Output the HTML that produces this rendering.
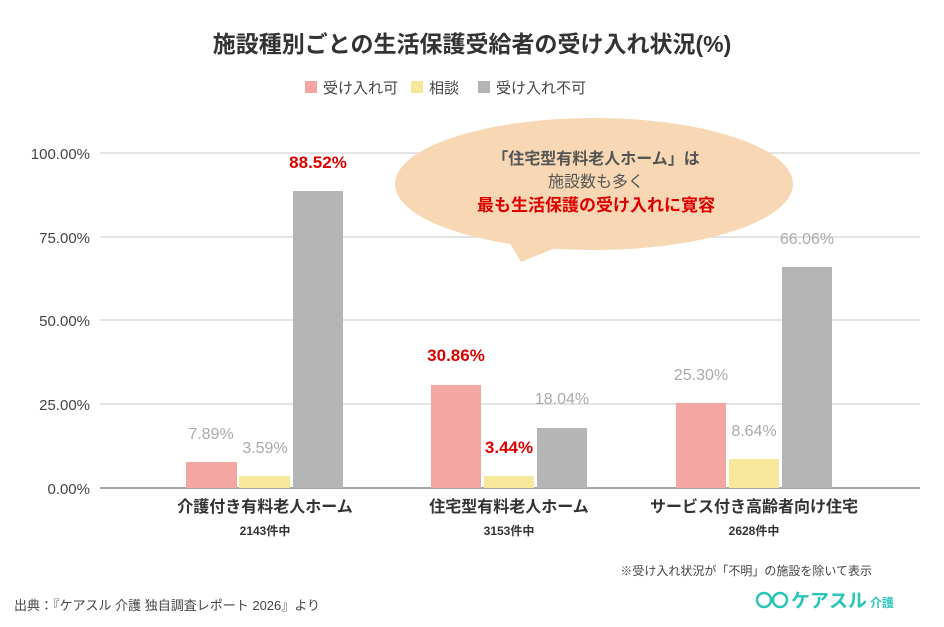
<!DOCTYPE html>
<html><head><meta charset="utf-8"><style>
body{margin:0;background:#fff;}
svg{display:block;font-family:"Liberation Sans","Noto Sans CJK JP",sans-serif;}
</style></head><body>
<svg width="944" height="627" viewBox="0 0 944 627" xmlns="http://www.w3.org/2000/svg">
<rect width="944" height="627" fill="#fff"/>
<text x="472" y="52" text-anchor="middle" font-size="23" font-weight="bold" fill="#333">施設種別ごとの生活保護受給者の受け入れ状況(%)</text>
<rect x="305" y="81" width="12" height="12" fill="#f4a6a3"/>
<text x="323" y="93" font-size="15" fill="#444">受け入れ可</text>
<rect x="411" y="81" width="12" height="12" fill="#f7e79a"/>
<text x="429" y="93" font-size="15" fill="#444">相談</text>
<rect x="478" y="81" width="12" height="12" fill="#b5b5b5"/>
<text x="496" y="93" font-size="15" fill="#444">受け入れ不可</text>
<g stroke="#dcdcdc" stroke-width="1.5">
<line x1="100" y1="153" x2="920" y2="153"/>
<line x1="100" y1="237" x2="920" y2="237"/>
<line x1="100" y1="320" x2="920" y2="320"/>
<line x1="100" y1="404" x2="920" y2="404"/>
</g>
<line x1="100" y1="488" x2="920" y2="488" stroke="#888" stroke-width="1.5"/>
<g font-size="15" fill="#444" text-anchor="end">
<text x="90" y="159">100.00%</text>
<text x="90" y="243">75.00%</text>
<text x="90" y="326">50.00%</text>
<text x="90" y="410">25.00%</text>
<text x="90" y="494">0.00%</text>
</g>
<ellipse cx="594" cy="184" rx="199" ry="66" fill="#f8d8b4"/>
<path d="M505 235 L521 262 L575 240 Z" fill="#f8d8b4"/>
<text x="596" y="164" text-anchor="middle" font-size="16" font-weight="bold" fill="#555">「住宅型有料老人ホーム」は</text>
<text x="596" y="187" text-anchor="middle" font-size="16" fill="#555">施設数も多く</text>
<text x="596" y="211" text-anchor="middle" font-size="17" font-weight="bold" fill="#d00">最も生活保護の受け入れに寛容</text>
<g>
<rect x="186" y="462" width="51" height="26" fill="#f4a6a3"/>
<rect x="239" y="476" width="51" height="12" fill="#f7e79a"/>
<rect x="293" y="191" width="50" height="297" fill="#b5b5b5"/>
<rect x="431" y="385" width="50" height="103" fill="#f4a6a3"/>
<rect x="484" y="476" width="50" height="12" fill="#f7e79a"/>
<rect x="537" y="428" width="50" height="60" fill="#b5b5b5"/>
<rect x="676" y="403" width="50" height="85" fill="#f4a6a3"/>
<rect x="729" y="459" width="50" height="29" fill="#f7e79a"/>
<rect x="782" y="267" width="50" height="221" fill="#b5b5b5"/>
</g>
<g font-size="16" fill="#aaa" text-anchor="middle">
<text x="211" y="439">7.89%</text>
<text x="265" y="453">3.59%</text>
<text x="562" y="404">18.04%</text>
<text x="701" y="380">25.30%</text>
<text x="754" y="436">8.64%</text>
<text x="807" y="244">66.06%</text>
</g>
<g font-size="17" font-weight="bold" fill="#d00" text-anchor="middle">
<text x="318" y="168">88.52%</text>
<text x="456" y="361">30.86%</text>
<text x="509" y="453">3.44%</text>
</g>
<g text-anchor="middle" fill="#333">
<text x="265" y="512" font-size="16" font-weight="bold">介護付き有料老人ホーム</text>
<text x="265" y="535" font-size="12" font-weight="bold">2143件中</text>
<text x="509" y="512" font-size="16" font-weight="bold">住宅型有料老人ホーム</text>
<text x="509" y="535" font-size="12" font-weight="bold">3153件中</text>
<text x="754" y="512" font-size="16" font-weight="bold">サービス付き高齢者向け住宅</text>
<text x="754" y="535" font-size="12" font-weight="bold">2628件中</text>
</g>
<text x="872" y="575" text-anchor="end" font-size="12" fill="#444">※受け入れ状況が「不明」の施設を除いて表示</text>
<text x="14" y="610" font-size="13" fill="#444">出典：『ケアスル 介護 独自調査レポート 2026』より</text>
<circle cx="764" cy="600" r="7" fill="none" stroke="#2cc4b8" stroke-width="2.5"/>
<circle cx="780" cy="600" r="7" fill="none" stroke="#2cc4b8" stroke-width="2.5"/>
<text x="791" y="607" font-size="19" font-weight="bold" fill="#2cc4b8">ケアスル</text>
<text x="870" y="607" font-size="12" font-weight="bold" fill="#2cc4b8">介護</text>
</svg>
</body></html>
